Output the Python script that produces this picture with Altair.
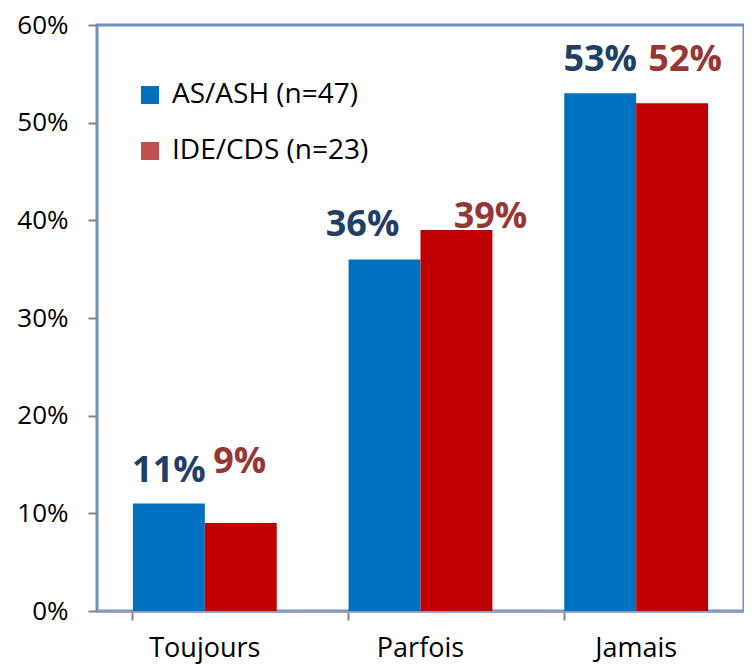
import altair as alt
import pandas as pd

categories = ["Toujours", "Parfois", "Jamais"]
series = ["AS/ASH (n=47)", "IDE/CDS (n=23)"]
as_ash = [0.11, 0.36, 0.53]
ide_cds = [0.09, 0.39, 0.52]
y_ticks = [0.0, 0.1, 0.2, 0.3, 0.4, 0.5, 0.6]

bar_colors = ["#0070C0", "#C00000"]
legend_colors = ["#0070C0", "#C0504D"]
label_colors = ["#1F3F66", "#953735"]
# manual nudges (px) of the value labels, as placed in the source chart
label_dx = [[0, -22, 0], [-1, 34, 13]]
label_dy = [[-22, -23, -22], [-50, -2, -32]]

rows = []
for i, c in enumerate(categories):
    rows.append({"cat": c, "series": series[0], "value": as_ash[i]})
    rows.append({"cat": c, "series": series[1], "value": ide_cds[i]})
df = pd.DataFrame(rows)

FONT = "Open Sans"

x = alt.X(
    "cat:N", sort=categories, title=None,
    scale=alt.Scale(paddingInner=1 / 3, paddingOuter=1 / 6),
    axis=alt.Axis(labelAngle=0, labelFontSize=27, labelFont=FONT, labelColor="#000000",
                  labelPadding=15, tickSize=9, tickColor="#868686", tickWidth=2,
                  bandPosition=0, domainColor="#8C9DBB", domainWidth=2.5,
                  labelBaseline="top"),
)
xo = alt.XOffset("series:N", sort=series, scale=alt.Scale(paddingInner=0, paddingOuter=0))
y = alt.Y(
    "value:Q", title=None,
    scale=alt.Scale(domain=[0, 0.6], nice=False, zero=True),
    axis=alt.Axis(format=".0%", values=y_ticks, grid=False, domain=False,
                  labelFontSize=26, labelFont=FONT, labelColor="#000000",
                  labelPadding=20, tickSize=9, tickColor="#868686", tickWidth=2),
)

bars = alt.Chart(df).mark_bar().encode(
    x=x, xOffset=xo, y=y,
    color=alt.Color("series:N", sort=series,
                    scale=alt.Scale(domain=series, range=bar_colors), legend=None),
)

legend_layer = alt.Chart(df).transform_calculate(leg="datum.series").mark_square(
    opacity=0, size=1
).encode(
    x=x, xOffset=xo, y=y,
    color=alt.Color("leg:N", sort=series,
                    scale=alt.Scale(domain=series, range=legend_colors),
                    legend=alt.Legend(orient="none", legendX=39, legendY=56, title=None,
                                      labelFontSize=28, labelFont=FONT, labelColor="#000000",
                                      labelLimit=500,
                                      symbolSize=324, symbolType="square", symbolStrokeWidth=0,
                                      rowPadding=28, labelOffset=8, padding=0,
                                      symbolOpacity=1)),
)

texts = []
for s_i, s in enumerate(series):
    for c_i, c in enumerate(categories):
        t = alt.Chart(df).transform_filter(
            (alt.datum.cat == c) & (alt.datum.series == s)
        ).mark_text(
            font=FONT, fontSize=36, fontWeight="bold", color=label_colors[s_i],
            align="center", baseline="alphabetic",
            dx=label_dx[s_i][c_i], dy=label_dy[s_i][c_i],
        ).encode(x=x, xOffset=xo, y=y, text=alt.Text("value:Q", format=".0%"))
        texts.append(t)

chart = alt.layer(bars, legend_layer, *texts).resolve_scale(
    color="independent"
).properties(
    width=647, height=586,
    padding={"left": 89, "top": 17, "right": 0, "bottom": 56},
    autosize=alt.AutoSizeParams(type="none"),
).configure_view(stroke="#6F90C8", strokeWidth=3)

chart.save("out.html", embed_options={"renderer": "svg", "actions": False})
